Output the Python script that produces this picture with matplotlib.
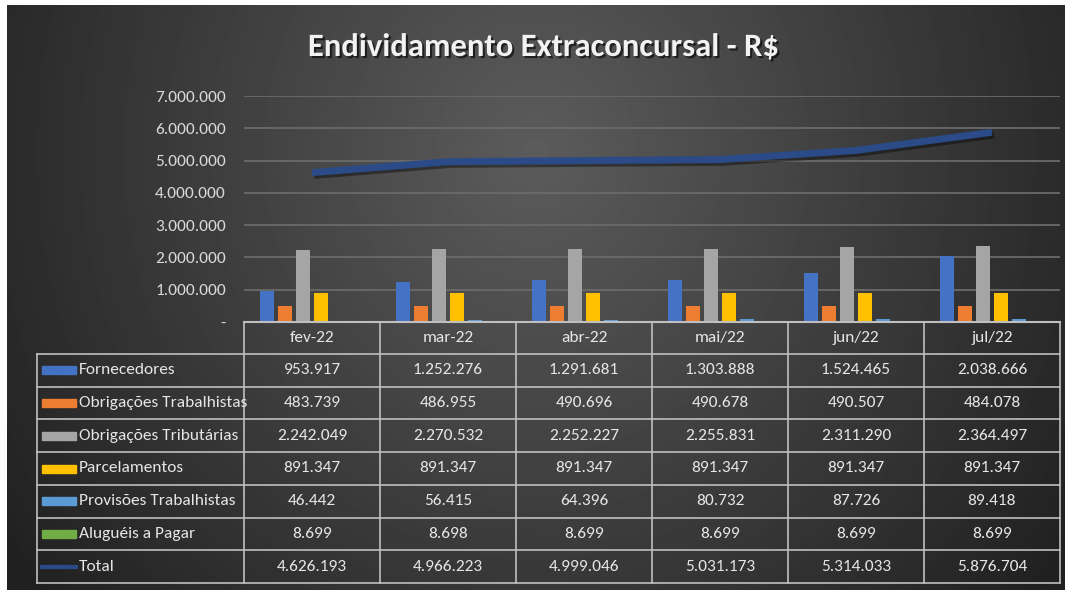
import numpy as np
import matplotlib
matplotlib.use('Agg')
import matplotlib.pyplot as plt
import matplotlib.patheffects as pe
from matplotlib.patches import Rectangle
from matplotlib.lines import Line2D
from matplotlib import font_manager

# fonte parecida com Calibri, se houver
installed = {f.name for f in font_manager.fontManager.ttflist}
fams = [f for f in ['Carlito', 'Roboto Condensed', 'Liberation Sans'] if f in installed]
plt.rcParams['font.family'] = fams + ['DejaVu Sans']

# dados do grafico
months = ['fev-22', 'mar-22', 'abr-22', 'mai/22', 'jun/22', 'jul/22']
fornecedores = [953917, 1252276, 1291681, 1303888, 1524465, 2038666]
obrig_trab = [483739, 486955, 490696, 490678, 490507, 484078]
obrig_trib = [2242049, 2270532, 2252227, 2255831, 2311290, 2364497]
parcelamentos = [891347, 891347, 891347, 891347, 891347, 891347]
provisoes = [46442, 56415, 64396, 80732, 87726, 89418]
alugueis = [8699, 8698, 8699, 8699, 8699, 8699]
total = [4626193, 4966223, 4999046, 5031173, 5314033, 5876704]

bar_names = ['Fornecedores', 'Obrigações Trabalhistas', 'Obrigações Tributárias',
             'Parcelamentos', 'Provisões Trabalhistas', 'Aluguéis a Pagar']
bar_series = [fornecedores, obrig_trab, obrig_trib, parcelamentos, provisoes, alugueis]
bar_colors = ['#4472C4', '#ED7D31', '#A5A5A5', '#FFC000', '#5B9BD5', '#70AD47']
total_color = '#2A4B88'
yticks = [0, 1000000, 2000000, 3000000, 4000000, 5000000, 6000000, 7000000]


def fmt(v):
    return f'{v:,}'.replace(',', '.')


W, H = 1072, 590
fig = plt.figure(figsize=(W / 100, H / 100), dpi=100, facecolor='white')


def fx(x):
    return x / W


def fy(y):
    return 1 - y / H


# fundo escuro com gradiente radial
bg = fig.add_axes([fx(7), 0, (1065 - 7) / W, (590 - 5) / H], zorder=-10)
yy, xx = np.mgrid[0:1:300j, 0:1:600j]
r = np.sqrt(((xx - 0.5) / 0.55) ** 2 + ((yy - 0.25) / 1.1) ** 2)
v = np.clip(0.36 - 0.21 * r, 0.13, 1)
bg.imshow(v, cmap='gray', vmin=0, vmax=1, aspect='auto', extent=(0, 1, 1, 0))
bg.axis('off')

# titulo
fig.text(fx(543), fy(47), 'Endividamento Extraconcursal - R$', ha='center', va='center',
         fontsize=23.5, fontweight='bold', color='#f2f2f2',
         path_effects=[pe.withSimplePatchShadow(offset=(1.5, -1.5), shadow_rgbFace='black', alpha=0.6)])

# area do grafico
ax = fig.add_axes([fx(244), fy(322), (1060 - 244) / W, (322 - 96) / H])
ax.set_facecolor('none')
n = len(months)
x = np.arange(n) + 0.5
for k, (vals, c) in enumerate(zip(bar_series, bar_colors)):
    ax.bar(x + (k - 2.5) * 0.132, vals, width=0.1, color=c, zorder=3)

ax.plot(x, total, color=total_color, lw=5, solid_capstyle='butt', zorder=4,
        path_effects=[pe.SimpleLineShadow(offset=(1.5, -2), shadow_color='black', alpha=0.4),
                      pe.Normal()])

ax.set_xlim(0, n)
ax.set_ylim(0, 7000000)
ax.set_yticks(yticks)
ax.set_yticklabels(['-'] + [fmt(t) for t in yticks[1:]])
ax.set_xticks([])
ax.tick_params(axis='y', length=0, pad=13, colors='#d9d9d9', labelsize=12.5)
ax.grid(axis='y', color='#6a6a6a', lw=1.3, zorder=0)
for s in ax.spines.values():
    s.set_visible(False)

# tabela de dados
tax = fig.add_axes([0, 0, 1, 1], zorder=5)
tax.set_xlim(0, W)
tax.set_ylim(H, 0)
tax.axis('off')

line_c = '#bfbfbf'
x0, xl, x1 = 37, 244, 1060
cw = (x1 - xl) / n
ytop, yh = 322, 354
rh = (583 - yh) / 7
rows = bar_series + [total]
names = bar_names + ['Total']

tax.plot([xl, x1], [ytop, ytop], color=line_c, lw=1.5)
for k in range(len(rows) + 1):
    tax.plot([x0, x1], [yh + k * rh] * 2, color=line_c, lw=1.2)
tax.plot([x0, x0], [yh, yh + len(rows) * rh], color=line_c, lw=1.2)
for j in range(n + 1):
    tax.plot([xl + j * cw] * 2, [ytop, yh + len(rows) * rh], color=line_c, lw=1.2)

txt_c = '#e6e6e6'
for j, m in enumerate(months):
    tax.text(xl + (j + 0.5) * cw, (ytop + yh) / 2, m, ha='center', va='center',
             fontsize=12.5, color=txt_c)

for k, (nm, vals) in enumerate(zip(names, rows)):
    yc = yh + (k + 0.5) * rh
    if k < len(bar_colors):
        tax.add_patch(Rectangle((42, yc - 4), 34, 8, color=bar_colors[k]))
    else:
        tax.add_line(Line2D([42, 76], [yc, yc], color=total_color, lw=3))
    tax.text(79, yc, nm, ha='left', va='center', fontsize=12.5, color=txt_c)
    for j, v in enumerate(vals):
        tax.text(xl + (j + 0.5) * cw, yc, fmt(v), ha='center', va='center',
                 fontsize=12.5, color=txt_c)

fig.savefig('out.png', dpi=100, facecolor='white')
